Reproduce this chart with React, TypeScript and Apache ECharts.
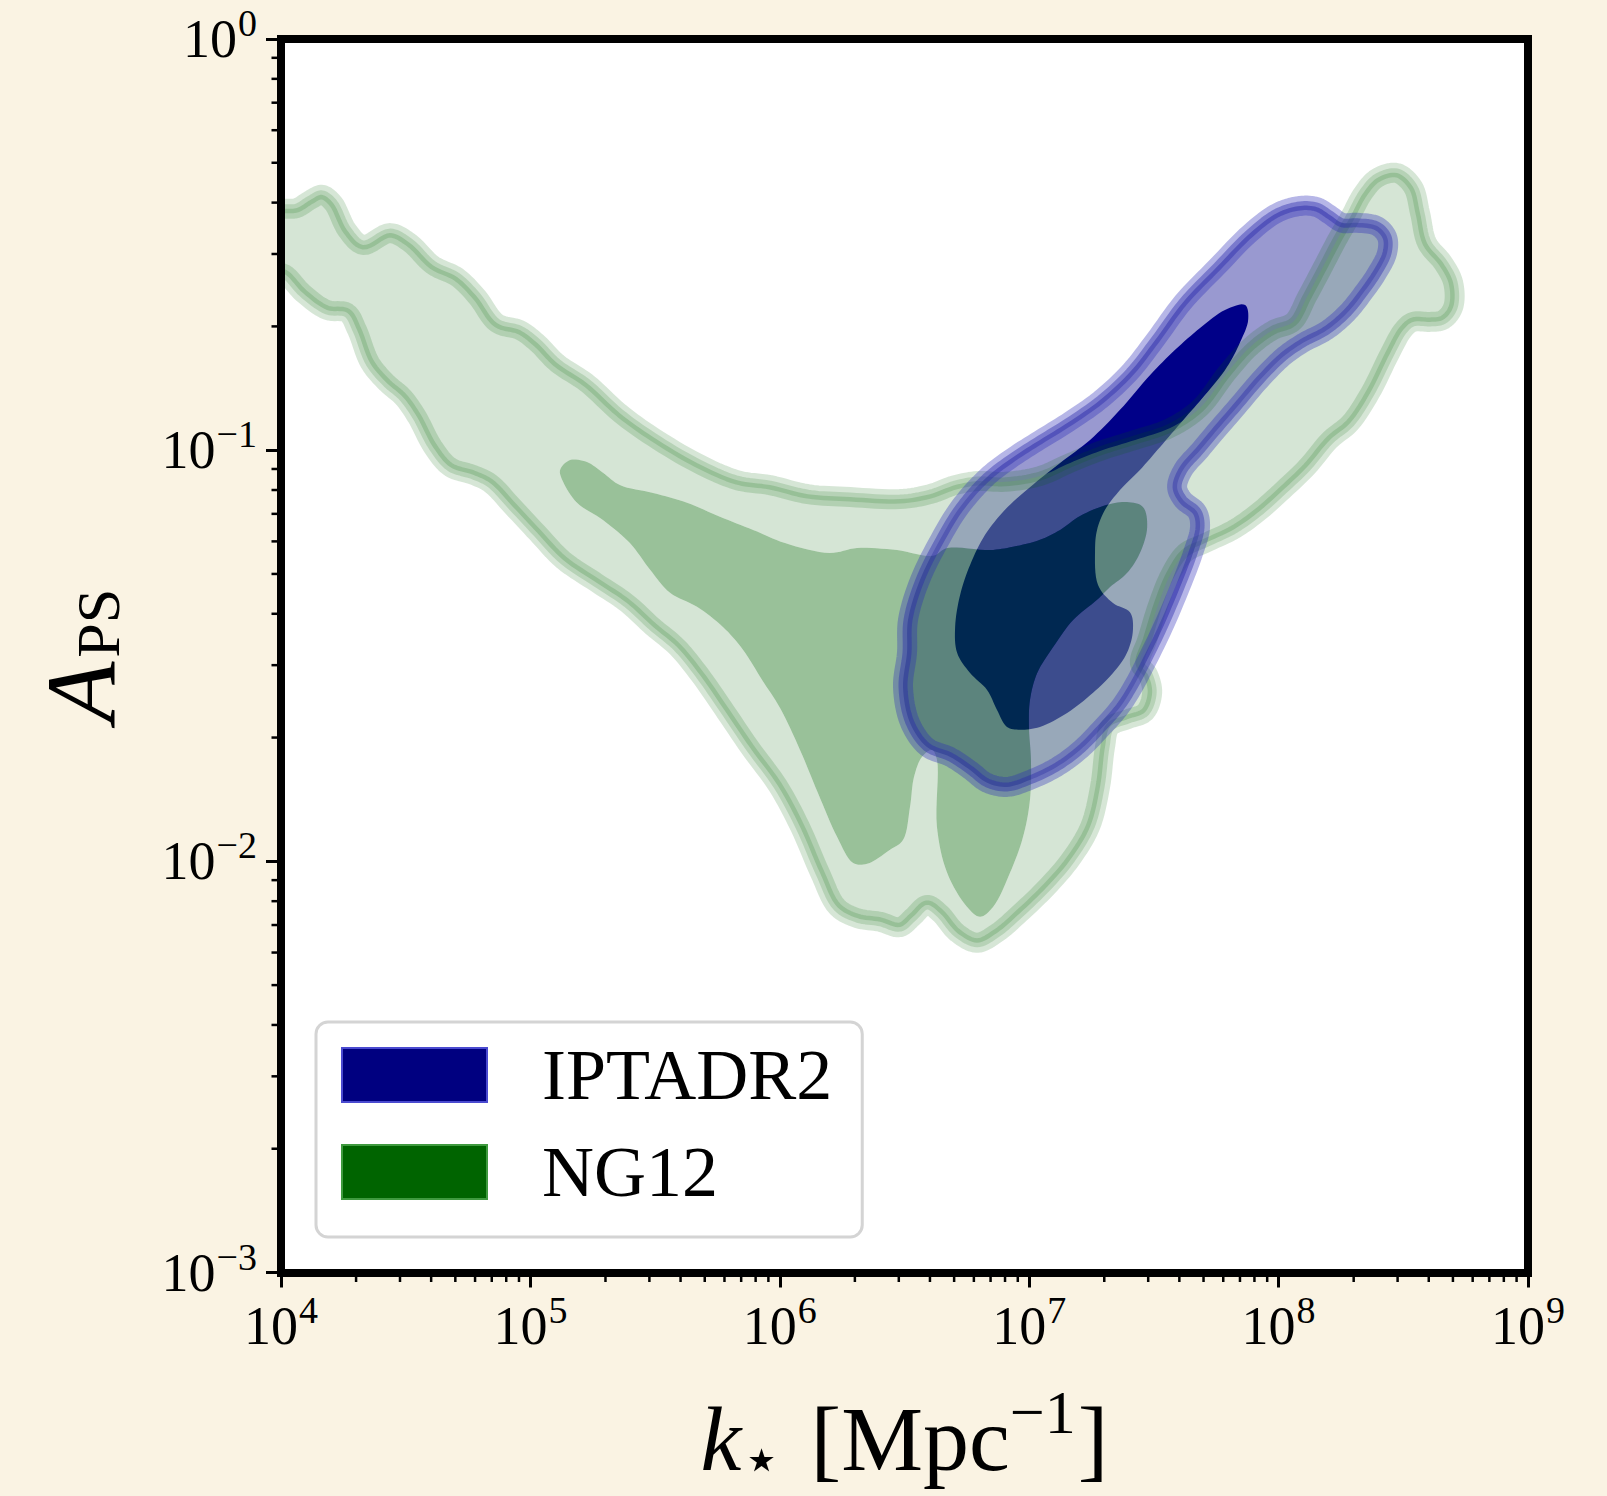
import React, { useEffect, useRef } from 'react';
import * as echarts from 'echarts';

const SERIF = "'Liberation Serif', 'DejaVu Serif', serif";
const STARFONT = "'DejaVu Sans', 'DejaVu Serif', sans-serif";

// axis ticks (decades) and minor multipliers
const xTickExponents = [4, 5, 6, 7, 8, 9];
const yTickExponents = [-3, -2, -1, 0];
const minorMultipliers = [2, 3, 4, 5, 6, 7, 8, 9];

const legendNames = ['IPTADR2', 'NG12'];

// Contours, as [log10(k*), log10(A_PS)]
// NG12, outer (2 sigma) contour, clockwise
const ng12Outer: number[][] = [
  [3.964, -0.411], [4.02, -0.413], [4.064, -0.411], [4.116, -0.392], [4.164, -0.379], [4.209, -0.399],
  [4.265, -0.465], [4.329, -0.501], [4.437, -0.472], [4.517, -0.496], [4.609, -0.55], [4.706, -0.579],
  [4.786, -0.627], [4.866, -0.691], [4.958, -0.708], [5.027, -0.739], [5.107, -0.788], [5.227, -0.837],
  [5.359, -0.91], [5.492, -0.968], [5.668, -1.031], [5.829, -1.073], [5.961, -1.085], [6.113, -1.107],
  [6.282, -1.114], [6.482, -1.119], [6.602, -1.107], [6.703, -1.085], [6.795, -1.075], [6.903, -1.077],
  [7.043, -1.063], [7.164, -1.031], [7.284, -1.002], [7.425, -0.975], [7.565, -0.946], [7.685, -0.897],
  [7.793, -0.812], [7.886, -0.749], [7.978, -0.708], [8.058, -0.688], [8.114, -0.627], [8.178, -0.554],
  [8.234, -0.489], [8.287, -0.433], [8.339, -0.375], [8.395, -0.338], [8.475, -0.326], [8.539, -0.36],
  [8.567, -0.423], [8.595, -0.496], [8.66, -0.545], [8.7, -0.593], [8.7, -0.652], [8.66, -0.683],
  [8.607, -0.688], [8.539, -0.688], [8.499, -0.708], [8.447, -0.764], [8.367, -0.861], [8.287, -0.934],
  [8.206, -0.975], [8.114, -1.041], [8.018, -1.097], [7.914, -1.153], [7.817, -1.194], [7.705, -1.226],
  [7.625, -1.25], [7.565, -1.304], [7.517, -1.376], [7.473, -1.462], [7.444, -1.518], [7.477, -1.547],
  [7.493, -1.59], [7.465, -1.637], [7.396, -1.654], [7.324, -1.673], [7.304, -1.722], [7.284, -1.819],
  [7.244, -1.916], [7.164, -1.997], [7.072, -2.062], [6.963, -2.126], [6.871, -2.174], [6.791, -2.198],
  [6.711, -2.174], [6.642, -2.126], [6.59, -2.106], [6.534, -2.135], [6.482, -2.16], [6.402, -2.147],
  [6.31, -2.138], [6.23, -2.111], [6.161, -2.028], [6.081, -1.916], [5.993, -1.817], [5.881, -1.724],
  [5.772, -1.627], [5.68, -1.547], [5.588, -1.479], [5.492, -1.43], [5.387, -1.372], [5.267, -1.323],
  [5.131, -1.267], [5.027, -1.201], [4.93, -1.138], [4.838, -1.08], [4.77, -1.06], [4.678, -1.041],
  [4.609, -0.992], [4.545, -0.919], [4.489, -0.871], [4.425, -0.837], [4.357, -0.788], [4.305, -0.708],
  [4.265, -0.666], [4.184, -0.659], [4.088, -0.618], [4.02, -0.574], [3.964, -0.557],
];

// NG12, inner (1 sigma) contour
const ng12Inner: number[][] = [
  [5.119, -1.048], [5.159, -1.024], [5.227, -1.029], [5.291, -1.055], [5.359, -1.085], [5.492, -1.104],
  [5.628, -1.128], [5.76, -1.162], [5.893, -1.194], [6.021, -1.226], [6.201, -1.25], [6.31, -1.238],
  [6.47, -1.243], [6.614, -1.257], [6.671, -1.238], [6.843, -1.243], [6.935, -1.235], [7.043, -1.218],
  [7.124, -1.194], [7.204, -1.16], [7.312, -1.133], [7.392, -1.126], [7.456, -1.138], [7.473, -1.187],
  [7.444, -1.25], [7.392, -1.299], [7.324, -1.333], [7.272, -1.364], [7.176, -1.413], [7.096, -1.479],
  [7.032, -1.542], [7.003, -1.608], [6.999, -1.673], [7.007, -1.753], [7.003, -1.851], [6.975, -1.941],
  [6.923, -2.028], [6.855, -2.111], [6.803, -2.135], [6.751, -2.111], [6.671, -2.028], [6.63, -1.916],
  [6.63, -1.753], [6.61, -1.729], [6.57, -1.746], [6.538, -1.795], [6.522, -1.868], [6.494, -1.948],
  [6.442, -1.972], [6.35, -2.006], [6.294, -2.004], [6.23, -1.941], [6.153, -1.834], [6.081, -1.729],
  [6.001, -1.627], [5.929, -1.559], [5.853, -1.486], [5.772, -1.43], [5.668, -1.381], [5.56, -1.347],
  [5.48, -1.291], [5.399, -1.226], [5.291, -1.17], [5.187, -1.128], [5.131, -1.077],
];

// IPTADR2, outer (2 sigma) contour
const iptaOuter: number[][] = [
  [6.494, -1.576], [6.51, -1.493], [6.514, -1.413], [6.562, -1.316], [6.642, -1.218], [6.723, -1.138],
  [6.831, -1.065], [6.935, -1.017], [7.043, -0.975], [7.152, -0.934], [7.284, -0.878], [7.404, -0.81],
  [7.505, -0.732], [7.617, -0.64], [7.753, -0.554], [7.886, -0.472], [7.994, -0.423], [8.086, -0.406],
  [8.154, -0.409], [8.206, -0.428], [8.255, -0.447], [8.315, -0.447], [8.395, -0.455], [8.435, -0.482],
  [8.435, -0.52], [8.395, -0.569], [8.339, -0.618], [8.275, -0.666], [8.194, -0.708], [8.098, -0.739],
  [8.018, -0.773], [7.926, -0.829], [7.833, -0.895], [7.753, -0.951], [7.685, -1.0], [7.617, -1.048],
  [7.593, -1.09], [7.617, -1.121], [7.673, -1.15], [7.685, -1.187], [7.657, -1.25], [7.605, -1.333],
  [7.537, -1.43], [7.473, -1.51], [7.416, -1.576], [7.364, -1.625], [7.284, -1.68], [7.204, -1.729],
  [7.112, -1.77], [7.003, -1.802], [6.911, -1.819], [6.831, -1.809], [6.763, -1.778], [6.683, -1.746],
  [6.59, -1.722], [6.522, -1.663],
];

// IPTADR2, inner (1 sigma) contour
const iptaInner: number[][] = [
  [7.866, -0.647], [7.878, -0.683], [7.846, -0.737], [7.793, -0.798], [7.705, -0.866], [7.617, -0.927],
  [7.525, -0.992], [7.444, -1.048], [7.364, -1.097], [7.304, -1.145], [7.272, -1.194], [7.264, -1.243],
  [7.276, -1.328], [7.336, -1.372], [7.404, -1.394], [7.416, -1.437], [7.392, -1.493], [7.336, -1.542],
  [7.256, -1.59], [7.152, -1.639], [7.043, -1.673], [6.963, -1.68], [6.911, -1.673], [6.871, -1.632],
  [6.831, -1.583], [6.763, -1.542], [6.711, -1.493], [6.703, -1.43], [6.723, -1.352], [6.763, -1.279],
  [6.823, -1.206], [6.903, -1.145], [7.003, -1.09], [7.124, -1.031], [7.244, -0.975], [7.364, -0.902],
  [7.485, -0.817], [7.585, -0.756], [7.685, -0.703], [7.785, -0.659],
];

const toData = (pts: number[][]) => pts.map(([lx, ly]) => [Math.pow(10, lx), Math.pow(10, ly)]);

// centripetal Catmull-Rom smoothing of a closed ring of pixel points (rendering only)
function smoothClosed(pts: number[][], steps = 8) {
  const n = pts.length;
  const out: number[][] = [];
  const tj = (a: number[], b: number[], t: number) => t + Math.max(Math.sqrt(Math.hypot(b[0] - a[0], b[1] - a[1])), 1e-4);
  for (let i = 0; i < n; i++) {
    const p0 = pts[(i - 1 + n) % n], p1 = pts[i], p2 = pts[(i + 1) % n], p3 = pts[(i + 2) % n];
    const t0 = 0, t1 = tj(p0, p1, t0), t2 = tj(p1, p2, t1), t3 = tj(p2, p3, t2);
    for (let s = 0; s < steps; s++) {
      const t = t1 + ((t2 - t1) * s) / steps;
      const mix = (a: number[], b: number[], ta: number, tb: number) => {
        const w = (t - ta) / (tb - ta);
        return [a[0] * (1 - w) + b[0] * w, a[1] * (1 - w) + b[1] * w];
      };
      const A1 = mix(p0, p1, t0, t1), A2 = mix(p1, p2, t1, t2), A3 = mix(p2, p3, t2, t3);
      const B1 = mix(A1, A2, t0, t2), B2 = mix(A2, A3, t1, t3);
      out.push(mix(B1, B2, t1, t2));
    }
  }
  return out;
}

function signedArea(r: number[][]) {
  let s = 0;
  for (let i = 0; i < r.length; i++) {
    const p = r[i];
    const q = r[(i + 1) % r.length];
    s += p[0] * q[1] - q[0] * p[1];
  }
  return s;
}

// outer ring with a hole cut by inner ring (zero-width bridge, opposite winding)
function ringWithHole(outer: number[][], inner: number[][]) {
  let inn = inner.slice();
  if (Math.sign(signedArea(outer)) === Math.sign(signedArea(inn))) inn = inn.reverse();
  let bi = 0, bj = 0, bd = Infinity;
  for (let i = 0; i < outer.length; i++) {
    for (let j = 0; j < inn.length; j++) {
      const d = (outer[i][0] - inn[j][0]) ** 2 + (outer[i][1] - inn[j][1]) ** 2;
      if (d < bd) { bd = d; bi = i; bj = j; }
    }
  }
  return [
    ...outer.slice(bi), ...outer.slice(0, bi + 1),
    ...inn.slice(bj), ...inn.slice(0, bj + 1),
  ];
}

const clipOf = (params: any) => ({
  type: 'rect',
  shape: { x: params.coordSys.x, y: params.coordSys.y, width: params.coordSys.width, height: params.coordSys.height },
});

const supText = (e: number) => (e < 0 ? '\u2212' + -e : String(e));
const powLabel = (v: number) => `{b|10}{s|${supText(Math.round(Math.log10(v)))}}`;

const labelRich = {
  b: { fontFamily: SERIF, fontSize: 54, color: '#000' },
  s: { fontFamily: SERIF, fontSize: 38, color: '#000', padding: [0, 0, 32, 1] },
};

export default function App() {
  const ref = useRef<HTMLDivElement>(null);

  useEffect(() => {
    if (!ref.current) return;
    const chart = echarts.init(ref.current, undefined, { renderer: 'svg' });

    const ngOut = toData(ng12Outer);
    const ngIn = toData(ng12Inner);
    const ipOut = toData(iptaOuter);
    const ipIn = toData(iptaInner);

    const xMinor: number[][] = [];
    xTickExponents.slice(0, -1).forEach((e) => minorMultipliers.forEach((m) => xMinor.push([m * Math.pow(10, e), 1e-3])));
    const yMinor: number[][] = [];
    yTickExponents.slice(0, -1).forEach((e) => minorMultipliers.forEach((m) => yMinor.push([1e4, m * Math.pow(10, e)])));

    const iptaSeries = {
      name: legendNames[0],
      type: 'custom',
      z: 2,
      clip: true,
      silent: true,
      itemStyle: { color: '#000080' },
      data: ipOut,
      renderItem: (params: any, api: any) => {
        if (params.dataIndex !== 0) return null;
        const o = smoothClosed(ipOut.map((p) => api.coord(p)));
        const i = smoothClosed(ipIn.map((p) => api.coord(p)));
        return {
          type: 'group',
          clipPath: clipOf(params),
          children: [
            { type: 'polygon', shape: { points: o }, style: { fill: 'rgba(0,0,137,0.4)', stroke: 'none' } },
            { type: 'polygon', shape: { points: i }, style: { fill: '#000088', stroke: 'none' } },
          ],
        };
      },
    };

    const iptaOutline = {
      name: 'IPTADR2 outline',
      type: 'custom',
      z: 4,
      clip: true,
      silent: true,
      data: ipOut,
      renderItem: (params: any, api: any) => {
        if (params.dataIndex !== 0) return null;
        const o = smoothClosed(ipOut.map((p) => api.coord(p)));
        return {
          type: 'group',
          clipPath: clipOf(params),
          children: [
            { type: 'polygon', shape: { points: o }, style: { fill: 'none', stroke: 'rgba(40,40,185,0.34)', lineWidth: 20, lineJoin: 'round' } },
            { type: 'polygon', shape: { points: o }, style: { fill: 'none', stroke: 'rgba(40,40,170,0.42)', lineWidth: 9, lineJoin: 'round' } },
          ],
        };
      },
    };

    const ngSeries = {
      name: legendNames[1],
      type: 'custom',
      z: 3,
      clip: true,
      silent: true,
      itemStyle: { color: '#006400' },
      data: ngOut,
      renderItem: (params: any, api: any) => {
        if (params.dataIndex !== 0) return null;
        const o = smoothClosed(ngOut.map((p) => api.coord(p)));
        const i = smoothClosed(ngIn.map((p) => api.coord(p)));
        return {
          type: 'group',
          clipPath: clipOf(params),
          children: [
            { type: 'polygon', shape: { points: ringWithHole(o, i) }, style: { fill: 'rgba(149,191,150,0.4)', stroke: 'none' } },
            { type: 'polygon', shape: { points: i }, style: { fill: 'rgba(0,100,0,0.4)', stroke: 'none' } },
            { type: 'polygon', shape: { points: o }, style: { fill: 'none', stroke: 'rgba(0,100,0,0.16)', lineWidth: 20, lineJoin: 'round' } },
            { type: 'polygon', shape: { points: o }, style: { fill: 'none', stroke: 'rgba(0,100,0,0.15)', lineWidth: 9, lineJoin: 'round' } },
          ],
        };
      },
    };

    const xMinorSeries = {
      name: 'xMinor',
      type: 'custom',
      silent: true,
      z: 1,
      data: xMinor,
      renderItem: (params: any, api: any) => {
        const p = api.coord([api.value(0), api.value(1)]);
        return { type: 'line', shape: { x1: p[0], y1: p[1], x2: p[0], y2: p[1] + 9.5 }, style: { stroke: '#000', lineWidth: 2.5 } };
      },
    };
    const yMinorSeries = {
      name: 'yMinor',
      type: 'custom',
      silent: true,
      z: 1,
      data: yMinor,
      renderItem: (params: any, api: any) => {
        const p = api.coord([api.value(0), api.value(1)]);
        return { type: 'line', shape: { x1: p[0], y1: p[1], x2: p[0] - 9.5, y2: p[1] }, style: { stroke: '#000', lineWidth: 2.5 } };
      },
    };

    const frameLine = { show: true, onZero: false, lineStyle: { color: '#000', width: 8, cap: 'square' } };

    const option: any = {
      animation: false,
      backgroundColor: '#FAF3E3',
      grid: { left: 281, top: 39, width: 1247, height: 1233.5, show: true, backgroundColor: '#ffffff', borderWidth: 0 },
      xAxis: [
        {
          type: 'log', logBase: 10, min: 1e4, max: 1e9, position: 'bottom', z: 10,
          axisLine: frameLine,
          axisTick: { show: true, length: 15, lineStyle: { color: '#000', width: 3 } },
          axisLabel: { show: true, margin: 18, formatter: powLabel, rich: labelRich, showMinLabel: true, showMaxLabel: true },
          splitLine: { show: false },
          name: '{i|k}{st|\u22c6}{r| [Mpc}{sup|\u22121}{r|]}',
          nameLocation: 'middle',
          nameGap: 108,
          nameTextStyle: {
            rich: {
              i: { fontFamily: SERIF, fontStyle: 'italic', fontSize: 92, color: '#000' },
              st: { fontFamily: STARFONT, fontSize: 64, color: '#000', padding: [40, 6, 0, 0] },
              r: { fontFamily: SERIF, fontSize: 92, color: '#000' },
              sup: { fontFamily: SERIF, fontSize: 62, color: '#000', padding: [0, 2, 54, 0] },
            },
          },
        },
        {
          type: 'log', logBase: 10, min: 1e4, max: 1e9, position: 'top', z: 10,
          axisLine: frameLine, axisTick: { show: false }, axisLabel: { show: false }, splitLine: { show: false },
        },
      ],
      yAxis: [
        {
          type: 'log', logBase: 10, min: 1e-3, max: 1, position: 'left', z: 10,
          axisLine: frameLine,
          axisTick: { show: true, length: 15, lineStyle: { color: '#000', width: 3 } },
          axisLabel: { show: true, margin: 24, formatter: powLabel, rich: labelRich, showMinLabel: true, showMaxLabel: true },
          splitLine: { show: false },
          name: '{i|A}{sub|PS}',
          nameLocation: 'middle',
          nameRotate: 90,
          nameGap: 150,
          nameTextStyle: {
            rich: {
              i: { fontFamily: SERIF, fontStyle: 'italic', fontSize: 100, color: '#000', padding: [0, 4, 0, 0] },
              sub: { fontFamily: SERIF, fontSize: 62, color: '#000', padding: [34, 0, 0, 0] },
            },
          },
        },
        {
          type: 'log', logBase: 10, min: 1e-3, max: 1, position: 'right', z: 10,
          axisLine: frameLine, axisTick: { show: false }, axisLabel: { show: false }, splitLine: { show: false },
        },
      ],
      legend: {
        data: [
          { name: legendNames[0], icon: 'rect', itemStyle: { color: '#000080', borderColor: '#4a4ad0', borderWidth: 2 } },
          { name: legendNames[1], icon: 'rect', itemStyle: { color: '#006400', borderColor: '#3f9a3f', borderWidth: 2 } },
        ],
        orient: 'vertical',
        left: 316,
        top: 1022,
        itemWidth: 145,
        itemHeight: 54,
        itemGap: 17,
        padding: [13, 30, 25, 25],
        backgroundColor: '#ffffff',
        borderColor: '#d4d4d4',
        borderWidth: 3,
        borderRadius: 12,
        selectedMode: false,
        textStyle: { fontFamily: SERIF, fontSize: 72, color: '#000', padding: [0, 0, 0, 50], lineHeight: 80 },
      },
      series: [iptaSeries, ngSeries, iptaOutline, xMinorSeries, yMinorSeries],
    };

    chart.setOption(option);
    return () => chart.dispose();
  }, []);

  return (
    <div
      ref={ref}
      style={{ position: 'absolute', left: 0, top: 0, width: 1607, height: 1496, background: '#FAF3E3' }}
    />
  );
}
